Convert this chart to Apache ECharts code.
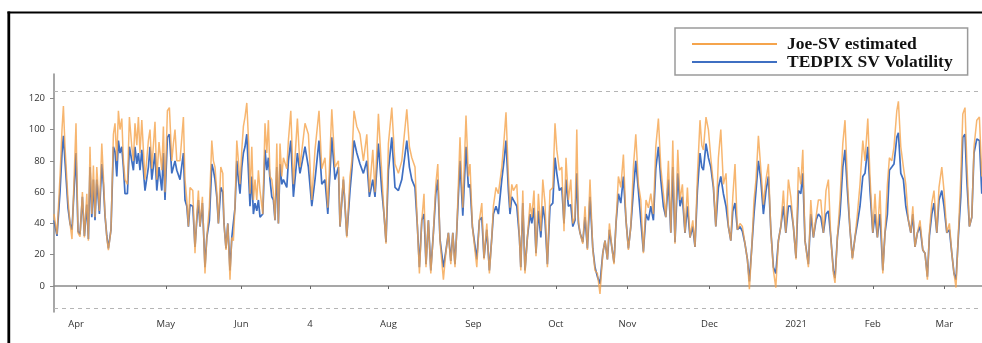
<!DOCTYPE html>
<html><head><meta charset="utf-8">
<script src="https://cdn.jsdelivr.net/npm/echarts@6/dist/echarts.min.js"></script>
<style>html,body{margin:0;padding:0;background:#fff}#c{width:982px;height:343px}</style>
</head><body><div id="c"></div>
<script>
// observation index (trading-day position along the x axis)
const obs = [
0,1.5,3,4,4.7,5.5,7,8,9,11,
12,13,14.2,15.2,16.4,17.2,18,18.9,19.7,20.5,
21.4,22.7,23.9,24.7,25.5,26.4,27.2,28.5,29.7,30.5,
31.4,32.2,33,33.9,34.7,35.5,36.7,37.7,38.9,39.7,
40.5,41.4,42.2,43,43.9,45.5,47.2,48,48.9,50.5,
51.4,52.5,53.9,54.7,55.5,56.7,57.7,58.9,59.7,60.5,
61.4,63,64.7,65.5,66.4,67.2,68,69.4,70.5,71.4,
72.2,73,74.2,75.5,76.4,77.7,78.9,79.7,80.5,81.4,
82.2,83.4,84.4,85,86,86.9,88,88.9,89.7,90.5,
91.4,92.2,93,93.9,94.7,95.5,96.4,97.4,98,98.9,
99.7,100.5,101.4,102.2,103,104.4,105.5,106.4,107.2,108,
108.9,109.7,110.5,111.4,112.2,113,113.9,114.7,116.4,117.2,
118.4,119.7,121.7,123,125.5,127.2,128.9,130.5,132.5,133.9,
135.5,136.9,138.9,140.5,142.2,143,144.7,146.4,148,148.9,
150,151.4,153,154.7,156.4,157.7,159.4,160.5,162.2,163.9,
165,166,167.2,168.9,170.5,172.2,173.9,176.4,177.7,178.9,
180.5,181.7,182.7,183.9,185,186,187.2,188.4,189.7,190.9,
191.9,193,194.7,195.9,197.2,198.4,199.4,200.5,201.4,203,
204.4,206,207.2,208,209.2,211.4,212.7,213.9,215,216.4,
217.7,218.9,219.7,221,222.2,223.9,225,226,227.2,228,
228.9,229.7,231.4,232.7,233.4,234.4,235.5,236.7,238,238.9,
240,241,242.2,243.4,244.4,245.5,246.7,248,249.4,250.5,
251.4,252.7,253.9,255,256,257.2,258.4,259.4,260.5,261.4,
262.2,263,264.4,265.5,266.7,268,269.4,270.5,271.7,273,
274.4,275.5,276.7,277.7,278.9,280,281,282.2,283.4,284.7,
286,287.2,288.4,289.7,290.9,292.2,293.4,294.7,296,297.2,
298.4,299.7,300.9,302.2,303.4,304.7,305.9,307.2,308.4,309.4,
310.5,311.9,313,314.2,315.5,316.7,318,319.4,320.5,321.7,
323,323.9,324.7,326,327.2,328.4,329.7,330.9,332.2,333.4,
334.7,336,337.2,338.4,339.4,340.5,341.7,343,344.2,345.5,
346.7,347.7,348.9,350,351,352.2,353.4,354.7,356,357.2,
358.4,359.7,360.9,362.2,363.4,364.7,365.9,367.2,368.4,369.7,
371,372.2,373.4,374.4,375.5,377.2,378.4,379.7,381,382.2,
383.4,384.7,386,387.2,388.4,389.7,390.5,391.7,393,394.4,
395.5,396.7,398,399.2,400.5,401.7,403,404.4,405.5,406.9,
408,409.4,410.5,411.7,413,414.4,415.5,416.7,417.7,418.9,
420,421.4,422.2,423.4,424.7,425.9,427.2,428.4,429.4,430.5,
431.7,433,434.4,435.5,436.7,437.7,438.9,440,441.4,442.5,
443.9,445,446.4,447.7,448.9,450,451,452.2,453.4,454.4,
455.5,456.4,457.7,458.9,460,461.4,462.7,463.9
];
const joeSV = [
46,33,70,100,115,89,55,40,30,104,
34,31.5,60,31,59,29,89,46,77,44,
76,48,91,70,46,31,23,36,97,104,
80,112,100,107,80,68,65,108,89,80,
104,90,108,85,106,68,93,100,75,105,
68,92,74,102,60,112,114,80,91,100,
80,80,108,68,55,38,63,61,21,45,
61,38,57,8,31,51,93,80,76,60,
40,76,72,40,23,40,4,31,29,51,
93,80,65,87,102,108,117,89,59,89,
55,68,55,74,61,46,104,85,106,70,
68,59,42,91,40,91,70,82,75,93,
112,65,107,76,104,97,55,87,112,75,
82,50,113,76,80,38,70,31,70,80,
112,102,97,80,97,60,87,60,110,72,
46,27,91,114,78,72,80,113,89,82,
76,38,8,42,59,12,42,8,34,65,
78,29,4,21,34,14,34,12,36,95,
50,109,70,78,38,12,42,53,17,40,
8,31,51,63,59,76,93,111,70,50,
65,61,65,31,10,61,8,31,53,44,
61,19,59,35,68,53,12,61,63,104,
87,74,76,35,82,55,68,40,44,100,
42,34,27,51,23,68,23,10,8,-5,
21,29,17,40,25,14,40,70,63,84,
42,23,38,76,97,65,55,21,55,50,
59,46,89,107,76,59,44,80,34,93,
27,87,55,65,34,63,31,42,25,70,
106,90,87,108,100,82,65,38,82,100,
65,72,38,29,57,78,36,40,38,27,
17,-2,25,55,68,96,75,52,68,78,
36,10,-1,29,38,61,34,68,57,38,
17,76,65,87,29,12,55,31,44,55,
55,34,61,68,31,8,2,31,55,91,
106,68,36,17,31,46,65,93,80,107,
70,34,59,31,61,8,34,65,82,80,
89,112,118,89,76,65,42,34,51,25,
34,42,23,21,4,34,53,61,34,63,
76,61,34,40,21,8,-1,34,70,110,
114,80,38,44,89,106,108,70
];
const tedpixSV = [
42,32,60,85,96,80,50,40,36,85,
35,33,57,32,52,30,76,44,68,42,
68,46,78,65,45,32,24,36,89,86,
70,93,85,89,76,59,59,89,80,74,
89,78,85,74,87,61,76,89,68,85,
61,76,61,85,55,95,97,72,76,80,
74,68,85,55,51,38,52,51,25,42,
55,38,53,12,31,42,78,74,68,57,
40,63,60,40,24,40,10,31,30,50,
80,68,59,76,85,89,97,68,51,70,
46,53,48,55,44,46,87,74,82,68,
57,55,42,76,40,78,65,68,63,80,
93,57,85,72,89,76,51,68,93,65,
68,46,95,68,76,38,68,32,61,74,
93,85,78,72,80,57,68,57,91,61,
46,28,74,95,63,61,68,93,76,68,
63,38,12,42,46,14,42,10,34,59,
68,30,12,22,34,16,34,14,36,80,
45,89,63,65,38,17,42,44,18,36,
10,31,46,51,46,68,80,93,61,46,
57,55,51,31,12,53,10,31,46,40,
50,21,48,31,51,42,14,51,53,82,
72,61,63,40,68,51,52,38,42,72,
40,34,28,44,24,57,24,12,6,1.5,
21,29,17,36,25,15,40,59,53,70,
42,24,38,61,80,61,42,22,46,42,
51,42,75,89,68,51,44,68,34,76,
28,72,51,57,34,51,31,38,25,61,
85,76,74,91,82,76,63,38,63,70,
59,51,38,29,48,53,36,38,35,27,
17,3,25,46,61,80,68,46,61,70,
36,12,8,29,38,51,34,51,51,38,
18,61,59,72,29,14,46,31,42,46,
44,34,46,48,31,10,5,31,46,76,
87,61,36,18,31,40,51,70,72,89,
61,34,46,31,46,10,34,46,74,76,
78,95,98,72,68,51,42,34,46,25,
34,38,23,21,6,32,46,53,34,55,
61,51,34,36,21,8,4,32,57,95,
97,68,38,44,85,94,93,59
];
const monthTicks = [11, 55.9, 93.7, 128, 167.2, 209.7, 250.9, 286.7, 327.7, 371, 409.4, 445.2];
const monthLabels = ['Apr','May','Jun','4','Aug','Sep','Oct','Nov','Dec','2021','Feb','Mar'];
const yTicks = [0, 20, 40, 60, 80, 100, 120];
const refLines = [124.2, -14];
const xRange = [0, 464];
const yRange = [-16.6, 135.5];
const NAME_JOE = 'Joe-SV estimated';
const NAME_TED = 'TEDPIX SV Volatility';

const chart = echarts.init(document.getElementById('c'), null, {renderer: 'canvas'});
const axisGrey = '#8a8a8a';
const labelFont = {fontFamily: 'Open Sans', fontSize: 9.5, color: '#333'};

chart.setOption({
  animation: false,
  backgroundColor: '#fff',
  grid: {left: 54, right: 0, top: 74, bottom: 31, containLabel: false},
  legend: {
    left: 675, top: 28, orient: 'vertical',
    data: [NAME_JOE, NAME_TED],
    icon: 'rect', itemWidth: 85, itemHeight: 2, itemGap: 0,
    padding: [7, 15, 4, 17],
    borderColor: '#9a9a9a', borderWidth: 1.5,
    selectedMode: false,
    textStyle: {fontFamily: 'Liberation Serif', fontWeight: 'bold', fontSize: 17.5, color: '#111', lineHeight: 18, padding: [0, 0, 0, 5]}
  },
  xAxis: {
    type: 'value', min: xRange[0], max: xRange[1],
    splitLine: {show: false},
    axisLine: {lineStyle: {color: axisGrey, width: 1.5}},
    axisTick: {customValues: monthTicks, length: 3, lineStyle: {color: '#666'}},
    axisLabel: Object.assign({customValues: monthTicks, margin: 7,
      formatter: v => { const i = monthTicks.findIndex(t => Math.abs(t - v) < 1e-6); return i >= 0 ? monthLabels[i] : ''; }}, labelFont)
  },
  yAxis: {
    type: 'value', min: yRange[0], max: yRange[1],
    splitLine: {show: false},
    axisLine: {show: true, lineStyle: {color: axisGrey, width: 1.5}},
    axisTick: {show: true, customValues: yTicks, length: 4, lineStyle: {color: axisGrey}},
    axisLabel: Object.assign({customValues: yTicks, margin: 9}, labelFont)
  },
  graphic: [
    {type: 'line', shape: {x1: 7.5, y1: 12.5, x2: 982, y2: 12.5}, style: {stroke: '#000', lineWidth: 2.2}, silent: true},
    {type: 'line', shape: {x1: 8.8, y1: 11.5, x2: 8.8, y2: 343}, style: {stroke: '#000', lineWidth: 2.8}, silent: true}
  ],
  series: [
    {
      name: NAME_TED, type: 'line', showSymbol: false, symbol: 'none',
      data: obs.map((t, i) => [t, tedpixSV[i]]),
      itemStyle: {color: '#3f6fc2'},
      lineStyle: {color: '#3f6fc2', width: 1.7},
      markLine: {
        silent: true, symbol: 'none', label: {show: false},
        lineStyle: {color: '#b5b5b5', type: [4, 4], width: 1},
        data: refLines.map(v => ({yAxis: v}))
      }
    },
    {
      name: NAME_JOE, type: 'line', showSymbol: false, symbol: 'none',
      data: obs.map((t, i) => [t, joeSV[i]]),
      itemStyle: {color: '#f5a44c'},
      lineStyle: {color: '#f5a44c', width: 1.5, opacity: 0.8}
    }
  ]
});
</script></body></html>
